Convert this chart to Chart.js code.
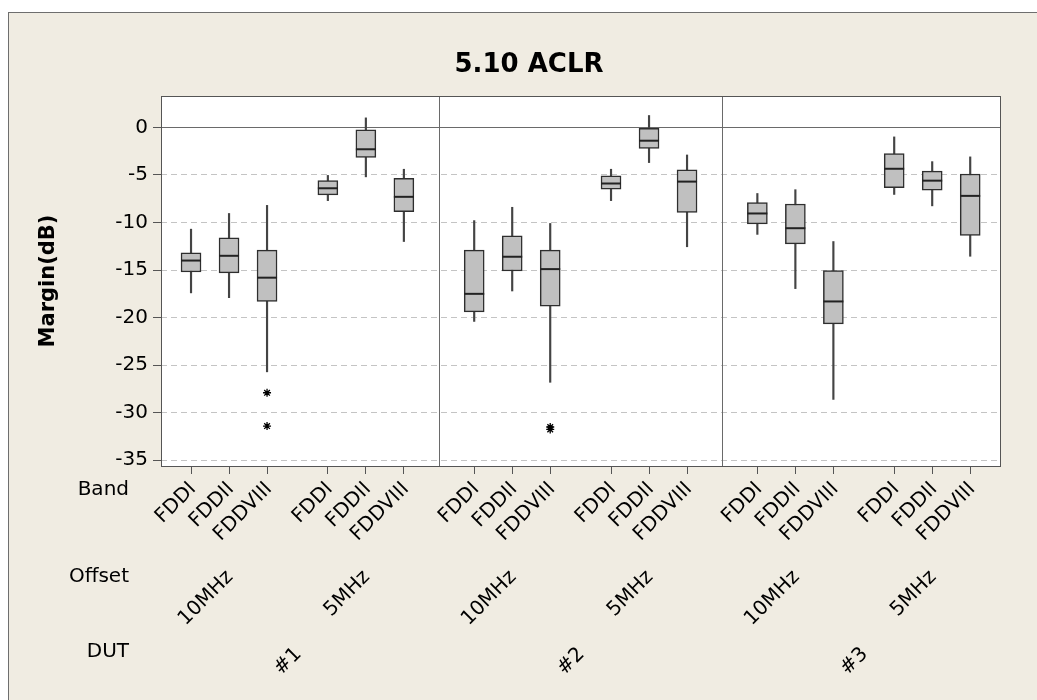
<!DOCTYPE html>
<html>
<head>
<meta charset="utf-8">
<script src="https://cdn.jsdelivr.net/npm/chart.js@4/dist/chart.umd.min.js"></script>
<style>
  html, body { margin: 0; padding: 0; background: #fff; }
  canvas { display: block; }
</style>
</head>
<body>
<canvas id="aclr" width="1037" height="700"></canvas>
<script>
const chartTitle = "5.10 ACLR";
const yTitle = "Margin(dB)";
const duts = ["#1", "#2", "#3"];
const offsets = ["10MHz", "5MHz"];
const bands = ["FDDI", "FDDII", "FDDVIII"];
const rowLabels = ["Band", "Offset", "DUT"];
const yTicks = [0, -5, -10, -15, -20, -25, -30, -35];
const refLine = 0;

// one value per box, order DUT > Offset > Band
const whiskerHigh = [-10.7, -9.05, -8.2, -5.05, 1.0, -4.4,
                     -9.8, -8.4, -10.1, -4.4, 1.25, -2.9,
                     -6.95, -6.55, -12.0, -1.0, -3.6, -3.1];
const q3 = [-13.2, -11.6, -12.9, -5.6, -0.25, -5.35,
            -12.9, -11.4, -12.9, -5.1, -0.1, -4.45,
            -7.9, -8.05, -15.05, -2.75, -4.6, -4.9];
const median = [-14.0, -13.5, -15.8, -6.4, -2.3, -7.3,
                -17.5, -13.6, -14.9, -5.9, -1.4, -5.7,
                -9.05, -10.6, -18.3, -4.35, -5.6, -7.2];
const q1 = [-15.2, -15.3, -18.3, -7.1, -3.15, -8.85,
            -19.4, -15.1, -18.8, -6.5, -2.2, -8.95,
            -10.15, -12.25, -20.65, -6.35, -6.6, -11.35];
const whiskerLow = [-17.4, -17.9, -25.7, -7.7, -5.2, -12.0,
                    -20.4, -17.2, -26.8, -7.7, -3.7, -12.55,
                    -11.25, -16.95, -28.6, -7.05, -8.25, -13.55];
const outlierBox = [2, 2, 8, 8];
const outlierVal = [-27.9, -31.4, -31.5, -31.75];

// layout of the boxes along a plain linear x axis
const X_START = 0.79, PANEL_STEP = 7.45, GROUP_STEP = 3.6, X_MAX = 22.1;
const boxX = median.map((_, i) => {
    const p = Math.floor(i / 6), g = Math.floor(i / 3) % 2, b = i % 3;
    return X_START + p * PANEL_STEP + g * GROUP_STEP + b;
});

const FONT = "'DejaVu Sans', Verdana, sans-serif";

function rotText(ctx, text, x, y) {
    ctx.save();
    ctx.translate(x, y);
    ctx.rotate(-Math.PI / 4);
    ctx.textAlign = "right";
    ctx.textBaseline = "middle";
    ctx.fillText(text, 0, 0);
    ctx.restore();
}

const deco = {
    id: "deco",
    beforeDraw(chart) {
        const { ctx, chartArea: a, width, height } = chart;
        ctx.save();
        ctx.fillStyle = "#ffffff";
        ctx.fillRect(0, 0, width, height);
        ctx.fillStyle = "#f0ece2";
        ctx.fillRect(8, 12, width, height);
        ctx.strokeStyle = "#6e6e6e";
        ctx.lineWidth = 1;
        ctx.strokeRect(8.5, 12.5, width + 10, height + 10);
        ctx.fillStyle = "#ffffff";
        ctx.fillRect(a.left, a.top, a.right - a.left, a.bottom - a.top);
        ctx.restore();
    },
    beforeDatasetsDraw(chart) {
        const { ctx, chartArea: a, scales } = chart;
        ctx.save();
        ctx.strokeStyle = "#6a6a6a";
        ctx.lineWidth = 1;
        const y0 = Math.round(scales.y.getPixelForValue(refLine)) + 0.5;
        ctx.beginPath();
        ctx.moveTo(a.left, y0);
        ctx.lineTo(a.right, y0);
        ctx.stroke();
        // panel dividers
        for (let p = 1; p < duts.length; p++) {
            const mid = (boxX[p * 6 - 1] + boxX[p * 6]) / 2;
            const x = Math.round(scales.x.getPixelForValue(mid)) + 0.5;
            ctx.beginPath();
            ctx.moveTo(x, a.top);
            ctx.lineTo(x, a.bottom);
            ctx.stroke();
        }
        ctx.restore();
    },
    afterDraw(chart) {
        const { ctx, chartArea: a, scales } = chart;
        const xs = scales.x;
        ctx.save();
        ctx.strokeStyle = "#555";
        ctx.lineWidth = 1;
        ctx.strokeRect(a.left + 0.5, a.top + 0.5, a.right - a.left - 1, a.bottom - a.top);

        ctx.fillStyle = "#000";
        ctx.font = "bold 26px " + FONT;
        ctx.textAlign = "center";
        ctx.textBaseline = "alphabetic";
        ctx.fillText(chartTitle, 529, 72);

        ctx.save();
        ctx.translate(49, 281);
        ctx.rotate(-Math.PI / 2);
        ctx.font = "bold 21px " + FONT;
        ctx.textBaseline = "middle";
        ctx.fillText(yTitle, 0, 0);
        ctx.restore();

        ctx.font = "20px " + FONT;
        ctx.textAlign = "right";
        ctx.textBaseline = "middle";
        const rowY = [490, 577, 652];
        rowLabels.forEach((t, i) => ctx.fillText(t, 129, rowY[i]));

        boxX.forEach((v, i) => {
            rotText(ctx, bands[i % 3], xs.getPixelForValue(v) + 2, 486);
        });
        for (let p = 0; p < duts.length; p++) {
            for (let g = 0; g < offsets.length; g++) {
                const v = boxX[p * 6 + g * 3 + 1];
                rotText(ctx, offsets[g], xs.getPixelForValue(v) + 1, 574);
            }
            const c = (boxX[p * 6] + boxX[p * 6 + 5]) / 2;
            rotText(ctx, duts[p], xs.getPixelForValue(c) + 1, 651);
        }
        ctx.restore();
    }
};

new Chart(document.getElementById("aclr"), {
    type: "bar",
    data: {
        datasets: [
            {
                label: "whisker",
                data: boxX.map((x, i) => ({ x, y: [whiskerLow[i], whiskerHigh[i]] })),
                backgroundColor: "#444",
                barThickness: 1.5,
                grouped: false,
                order: 3
            },
            {
                label: "box",
                data: boxX.map((x, i) => ({ x, y: [q1[i], q3[i]] })),
                backgroundColor: "#c0c0c0",
                borderColor: "#2e2e2e",
                borderWidth: 1.5,
                borderSkipped: false,
                barThickness: 20,
                grouped: false,
                order: 2
            },
            {
                type: "scatter",
                label: "median",
                data: boxX.map((x, i) => ({ x, y: median[i] })),
                pointStyle: "line",
                radius: 10,
                borderWidth: 2,
                borderColor: "#222",
                order: 1
            },
            {
                type: "scatter",
                label: "outlier",
                data: outlierVal.map((y, k) => ({ x: boxX[outlierBox[k]], y })),
                pointStyle: "star",
                radius: 4,
                borderWidth: 1.3,
                borderColor: "#000",
                order: 0
            }
        ]
    },
    options: {
        responsive: false,
        animation: false,
        layout: { padding: { top: 96, right: 36, left: 0, bottom: 0 } },
        plugins: {
            legend: { display: false },
            tooltip: { enabled: false }
        },
        scales: {
            x: {
                type: "linear",
                min: 0,
                max: X_MAX,
                offset: false,
                afterBuildTicks: (s) => { s.ticks = boxX.map((v) => ({ value: v })); },
                afterFit: (s) => { s.height = 234; },
                ticks: { callback: () => "", autoSkip: false },
                grid: { drawOnChartArea: false, drawTicks: true, tickLength: 8, tickColor: "#555", offset: false },
                border: { display: false }
            },
            y: {
                type: "linear",
                min: -35.6,
                max: 3.3,
                afterBuildTicks: (s) => { s.ticks = yTicks.map((v) => ({ value: v })); },
                afterFit: (s) => { s.width = 161; },
                ticks: { color: "#000", font: { family: FONT, size: 20 }, padding: 5 },
                grid: { color: "#c4c4c4", tickColor: "#555", tickLength: 8 },
                border: { display: false, dash: [6, 4] }
            }
        }
    },
    plugins: [deco]
});
</script>
</body>
</html>
